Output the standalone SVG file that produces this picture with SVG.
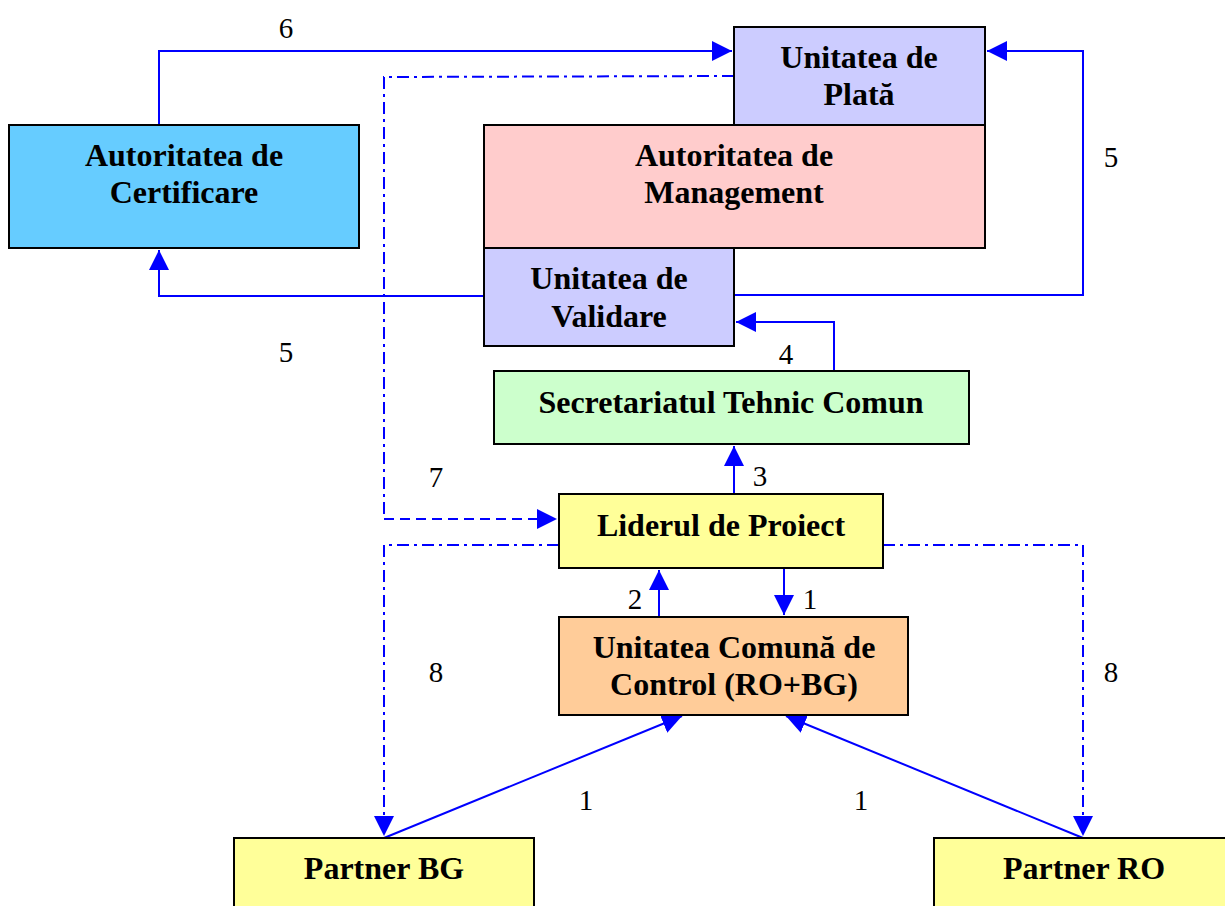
<svg xmlns="http://www.w3.org/2000/svg" width="1225" height="906" viewBox="0 0 1225 906">
<style>
.box{stroke:#000;stroke-width:2}
.t{font-family:"Liberation Serif","Times New Roman",serif;font-weight:bold;font-size:32px;text-anchor:middle;fill:#000}
.n{font-family:"Liberation Serif","Times New Roman",serif;font-size:29px;text-anchor:middle;fill:#000}
.c{fill:none;stroke:#0000FF;stroke-width:2}
.dd{stroke-dasharray:12,5,3,5}
.da{stroke-dasharray:10,6}
</style>
<defs>
<marker id="a" markerUnits="userSpaceOnUse" markerWidth="20" markerHeight="20" refX="20" refY="10" orient="auto">
<path d="M0,0 L20,10 L0,20 Z" fill="#0000FF"/>
</marker>
</defs>
<rect width="1225" height="906" fill="#fff"/>
<g id="connectors">
<path class="c" d="M159,125 V51 H732" marker-end="url(#a)"/>
<path class="c dd" d="M734,76 L384,77 V519"/>
<path class="c da" d="M384,519 H557" marker-end="url(#a)"/>
<path class="c" d="M484,296 H159 V250" marker-end="url(#a)"/>
<path class="c" d="M734,295 H1083 V51 H987" marker-end="url(#a)"/>
<path class="c" d="M834,371 V322 H736" marker-end="url(#a)"/>
<path class="c" d="M734,494 V446" marker-end="url(#a)"/>
<path class="c" d="M659,617 V570" marker-end="url(#a)"/>
<path class="c" d="M784,568 V615" marker-end="url(#a)"/>
<path class="c dd" d="M559,545 H384 V836" marker-end="url(#a)"/>
<path class="c dd" d="M883,545 H1083 V836" marker-end="url(#a)"/>
<path class="c" d="M384,838 L682,716" marker-end="url(#a)"/>
<path class="c" d="M1083,838 L786,716" marker-end="url(#a)"/>
<text class="n" x="286" y="38">6</text>
<text class="n" x="1111" y="167">5</text>
<text class="n" x="286" y="362">5</text>
<text class="n" x="786" y="364">4</text>
<text class="n" x="436" y="487">7</text>
<text class="n" x="760" y="486">3</text>
<text class="n" x="635" y="609">2</text>
<text class="n" x="810" y="609">1</text>
<text class="n" x="436" y="682">8</text>
<text class="n" x="1111" y="682">8</text>
<text class="n" x="586" y="810">1</text>
<text class="n" x="861" y="810">1</text>
</g>
<g id="plata">
<rect class="box" x="734" y="27" width="251" height="98" fill="#CCCCFF"/>
<text class="t" x="859" y="68">Unitatea de</text>
<text class="t" x="859" y="105">Plată</text>
</g>
<g id="management">
<rect class="box" x="484" y="125" width="501" height="123" fill="#FFCCCC"/>
<text class="t" x="734" y="166">Autoritatea de</text>
<text class="t" x="734" y="203">Management</text>
</g>
<g id="validare">
<rect class="box" x="484" y="248" width="250" height="98" fill="#CCCCFF"/>
<text class="t" x="609" y="289">Unitatea de</text>
<text class="t" x="609" y="327">Validare</text>
</g>
<g id="certificare">
<rect class="box" x="9" y="125" width="350" height="123" fill="#66CCFF"/>
<text class="t" x="184" y="166">Autoritatea de</text>
<text class="t" x="184" y="203">Certificare</text>
</g>
<g id="secretariat">
<rect class="box" x="494" y="371" width="475" height="73" fill="#CCFFCC"/>
<text class="t" x="731" y="413">Secretariatul Tehnic Comun</text>
</g>
<g id="lider">
<rect class="box" x="559" y="494" width="324" height="74" fill="#FFFF99"/>
<text class="t" x="721" y="536">Liderul de Proiect</text>
</g>
<g id="ucc">
<rect class="box" x="559" y="617" width="349" height="98" fill="#FFCC99"/>
<text class="t" x="734" y="658">Unitatea Comună de</text>
<text class="t" x="734" y="695">Control (RO+BG)</text>
</g>
<g id="partnerBG">
<rect class="box" x="234" y="838" width="300" height="80" fill="#FFFF99"/>
<text class="t" x="384" y="879">Partner BG</text>
</g>
<g id="partnerRO">
<rect class="box" x="934" y="838" width="300" height="80" fill="#FFFF99"/>
<text class="t" x="1084" y="879">Partner RO</text>
</g>
</svg>
